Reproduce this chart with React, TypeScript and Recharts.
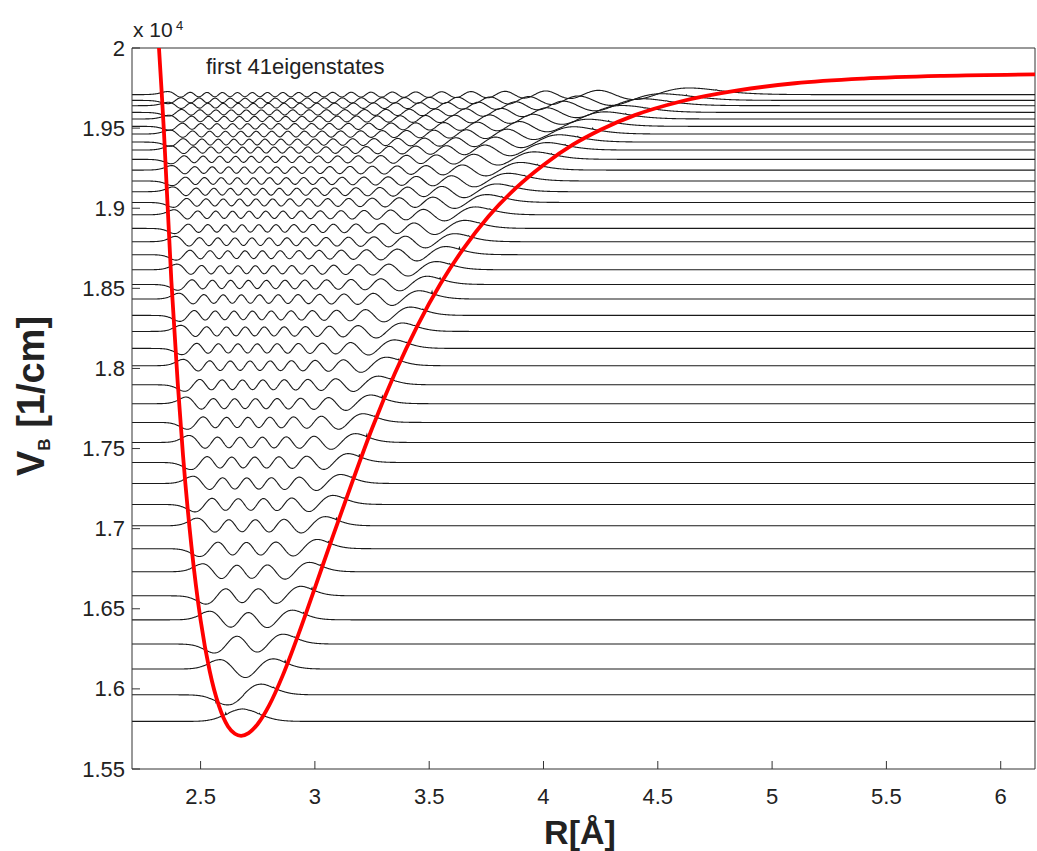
import React from "react";
import { LineChart, Line, XAxis, YAxis, ReferenceLine } from "recharts";

// red curve V_B(R) (R in Å, V in 10^4 1/cm)
const potentialR = [
  2.318, 2.33, 2.34, 2.372, 2.4, 2.423, 2.46, 2.5, 2.54, 2.58, 2.62, 2.65, 2.677, 2.71, 2.75, 2.8,
  2.86, 2.93, 3.0, 3.08, 3.166, 3.25, 3.35, 3.45, 3.55, 3.65, 3.76, 3.88, 4.0, 4.13, 4.25, 4.4, 4.6,
  4.85, 5.1, 5.4, 5.75, 6.15,
];
const potentialV = [
  2.0, 1.972, 1.947, 1.855, 1.791, 1.746, 1.689, 1.643, 1.611, 1.5895, 1.5765, 1.572, 1.5707,
  1.5724, 1.5781, 1.5897, 1.6086, 1.6348, 1.6631, 1.6958, 1.7301, 1.7625, 1.797, 1.8271, 1.853,
  1.8748, 1.895, 1.9127, 1.927, 1.9398, 1.949, 1.9581, 1.9666, 1.9735, 1.978, 1.9809, 1.9826,
  1.9835,
];

// the 41 eigen energies, read from the flat tails at the right edge (10^4 1/cm)
const levels = [
  1.5797, 1.5963, 1.6124, 1.628, 1.6431, 1.6581, 1.6731, 1.6875, 1.7018, 1.7151, 1.7282, 1.7413,
  1.7538, 1.7663, 1.778, 1.7898, 1.8017, 1.8125, 1.8231, 1.8331, 1.8433, 1.8524, 1.8616, 1.871,
  1.8791, 1.8874, 1.8959, 1.9036, 1.9103, 1.917, 1.9238, 1.9305, 1.9363, 1.9413, 1.9463, 1.9511,
  1.9557, 1.9598, 1.964, 1.9673, 1.9709,
];

// height of the ground state bump above its level
const groundPeak = 0.0078;

const xTicks = [2.5, 3, 3.5, 4, 4.5, 5, 5.5, 6];
const yTicks = [1.55, 1.6, 1.65, 1.7, 1.75, 1.8, 1.85, 1.9, 1.95, 2];

const X_MIN = 2.2;
const X_MAX = 6.15;
const PLOT_L = 132;
const PLOT_B = 769;
const FONT = '"Liberation Sans", Arial, Helvetica, sans-serif';

function vAt(r: number): number {
  const n = potentialR.length;
  if (r <= potentialR[0]) {
    const s = (potentialV[1] - potentialV[0]) / (potentialR[1] - potentialR[0]);
    return potentialV[0] + s * (r - potentialR[0]);
  }
  if (r >= potentialR[n - 1]) return potentialV[n - 1];
  for (let i = 1; i < n; i++) {
    if (r <= potentialR[i]) {
      const t = (r - potentialR[i - 1]) / (potentialR[i] - potentialR[i - 1]);
      return potentialV[i - 1] + t * (potentialV[i] - potentialV[i - 1]);
    }
  }
  return potentialV[n - 1];
}

// Airy Ai(x)
function airy(x: number): number {
  if (x > 5) {
    const z = (2 / 3) * Math.pow(x, 1.5);
    return (Math.exp(-z) / (2 * Math.sqrt(Math.PI) * Math.pow(x, 0.25))) * (1 - 5 / (72 * z));
  }
  if (x < -7) {
    const ax = -x;
    const z = (2 / 3) * Math.pow(ax, 1.5);
    const ph = z + Math.PI / 4;
    return (Math.sin(ph) - (5 / (72 * z)) * Math.cos(ph)) / (Math.sqrt(Math.PI) * Math.pow(ax, 0.25));
  }
  const x3 = x * x * x;
  let f = 1, g = x, tf = 1, tg = x;
  for (let k = 1; k < 200; k++) {
    tf *= x3 / ((3 * k - 1) * (3 * k));
    tg *= x3 / ((3 * k) * (3 * k + 1));
    f += tf;
    g += tg;
    if (Math.abs(tf) < 1e-18 && Math.abs(tg) < 1e-18) break;
  }
  return 0.355028053887817 * f - 0.258819403792807 * g;
}

const STEP = 0.0025;
const grid: number[] = [];
for (let i = 0; X_MIN + i * STEP <= X_MAX + 1e-9; i++) grid.push(+(X_MIN + i * STEP).toFixed(5));

// eigenstate shape between the turning points of level n (uniform WKB)
function stateShape(n: number): number[] {
  const E = levels[n];
  const m = grid.length;
  const d = grid.map((r) => E - vAt(r));
  const F = new Array(m).fill(0);
  for (let i = 1; i < m; i++) {
    F[i] = F[i - 1] + 0.5 * (Math.sqrt(Math.abs(d[i - 1])) + Math.sqrt(Math.abs(d[i]))) * STEP;
  }
  const ia = d.findIndex((v) => v >= 0);
  let ib = m - 2;
  while (ib > 0 && d[ib] < 0) ib--;
  const ta = -d[ia - 1] / (d[ia] - d[ia - 1]);
  const a = grid[ia - 1] + ta * STEP;
  const Fa = F[ia - 1] + ta * (F[ia] - F[ia - 1]);
  const tb = d[ib] / (d[ib] - d[ib + 1]);
  const b = grid[ib] + tb * STEP;
  const Fb = F[ib] + tb * (F[ib + 1] - F[ib]);
  const k = ((n + 0.5) * Math.PI) / (Fb - Fa);
  const Fmid = (Fa + Fb) / 2;
  const sgn = n % 2 === 0 ? 1 : -1;
  let prev = 1;
  return grid.map((r, i) => {
    const left = F[i] < Fmid;
    const s = k * Math.abs(F[i] - (left ? Fa : Fb));
    const outside = left ? r < a : r > b;
    const x = Math.pow(1.5 * s, 2 / 3) * (outside ? 1 : -1);
    let pref = Math.pow(Math.abs(x) / Math.abs(d[i]), 0.25);
    if (!isFinite(pref) || Math.abs(d[i]) < 1e-9 || Math.abs(x) < 1e-6) pref = prev;
    else prev = pref;
    return (left ? sgn : 1) * pref * airy(x);
  });
}

const shapes = levels.map((_, n) => {
  const p = stateShape(n);
  const norm = Math.sqrt(p.reduce((s, v) => s + v * v, 0) * STEP);
  return p.map((v) => v / norm);
});
const scale = groundPeak / Math.max(...shapes[0].map(Math.abs));

const waves = shapes.map((p, n) => {
  const pts: { x: number; y: number }[] = [];
  p.forEach((v, i) => {
    const dy = v * scale;
    if (i === 0 || i === p.length - 1 || Math.abs(dy) > 1e-6) pts.push({ x: grid[i], y: levels[n] + dy });
  });
  return pts;
});

const potential = potentialR.map((r, i) => ({ x: r, y: potentialV[i] }));

const fmt = (v: number) => String(Number(v.toFixed(2)));

function YTick(props: any) {
  const { y, payload } = props;
  return (
    <g>
      <line x1={PLOT_L} x2={PLOT_L + 8} y1={y} y2={y} stroke="#333" strokeWidth={1} />
      <text x={PLOT_L - 7} y={y} textAnchor="end" dominantBaseline="central" fontSize={22} fontFamily={FONT} fill="#222">
        {fmt(payload.value)}
      </text>
    </g>
  );
}

function XTick(props: any) {
  const { x, payload } = props;
  return (
    <g>
      <line x1={x} x2={x} y1={PLOT_B} y2={PLOT_B - 8} stroke="#333" strokeWidth={1} />
      <text x={x} y={804} textAnchor="middle" fontSize={22} fontFamily={FONT} fill="#222">
        {fmt(payload.value)}
      </text>
    </g>
  );
}

export default function App() {
  return (
    <div style={{ position: "absolute", left: 0, top: 0, width: 1037, height: 851, background: "#fff" }}>
      <LineChart width={1037} height={851} margin={{ top: 48, right: 2, bottom: 52, left: 72 }}>
        <XAxis
          dataKey="x"
          type="number"
          domain={[X_MIN, X_MAX]}
          ticks={xTicks}
          interval={0}
          allowDataOverflow
          tickLine={false}
          axisLine={{ stroke: "#333" }}
          tick={(p: any) => <XTick {...p} />}
          height={30}
        />
        <YAxis
          type="number"
          domain={[1.55, 2]}
          ticks={yTicks}
          interval={0}
          allowDataOverflow
          tickLine={false}
          axisLine={{ stroke: "#333" }}
          tick={(p: any) => <YTick {...p} />}
          width={60}
        />
        <ReferenceLine y={2} stroke="#333" />
        <ReferenceLine x={X_MAX} stroke="#333" />
        {waves.map((w, i) => (
          <Line
            key={i}
            data={w}
            dataKey="y"
            type="linear"
            stroke="#1a1a1a"
            strokeWidth={1.1}
            dot={false}
            activeDot={false}
            isAnimationActive={false}
          />
        ))}
        <Line
          data={potential}
          dataKey="y"
          type="monotone"
          stroke="#ff0000"
          strokeWidth={3.8}
          dot={false}
          activeDot={false}
          isAnimationActive={false}
        />
      </LineChart>
      <svg width={1037} height={851} style={{ position: "absolute", left: 0, top: 0, pointerEvents: "none" }}>
        <text x={133} y={37} fontSize={21} fontFamily={FONT} fill="#222">
          x 10
        </text>
        <text x={176} y={30} fontSize={13} fontFamily={FONT} fill="#222">
          4
        </text>
        <text x={206} y={74} fontSize={22} fontFamily={FONT} fill="#222">
          first 41eigenstates
        </text>
        <text x={580} y={844} textAnchor="middle" fontSize={34} fontWeight="bold" fontFamily={FONT} fill="#222">
          R[Å]
        </text>
        <text
          transform="translate(44,396) rotate(-90)"
          textAnchor="middle"
          fontSize={38}
          fontWeight="bold"
          fontFamily={FONT}
          fill="#222"
        >
          V<tspan fontSize={17} dy={6}>B</tspan>
          <tspan dy={-6}> [1/cm]</tspan>
        </text>
      </svg>
    </div>
  );
}
